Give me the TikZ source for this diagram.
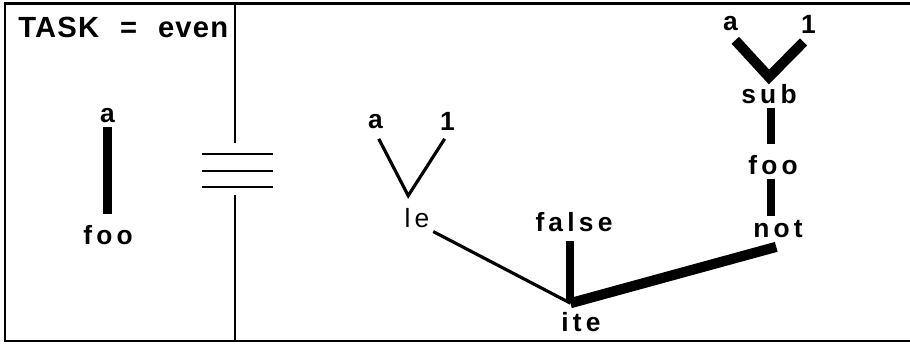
\documentclass[tikz,border=0pt]{standalone}
\usepackage{fontspec}
\setmainfont{Liberation Sans}
\newfontfamily\spaced[LetterSpace=16]{Liberation Sans}
\newfontfamily\titlefont[LetterSpace=4]{Liberation Sans}
\usetikzlibrary{calc}

\tikzset{
  lbl/.style={font=\spaced\fontsize{15}{17}\selectfont\bfseries,inner sep=2pt},
  thinlbl/.style={font=\spaced\fontsize{15}{17}\selectfont,inner sep=2pt},
  thinedge/.style={line width=1.8pt},
  heavy/.style={line width=4.6pt},
  heavier/.style={line width=5.8pt,line join=miter},
  frameline/.style={line width=1.5pt},
  divline/.style={line width=1.2pt}
}

\begin{document}
\begin{tikzpicture}
  \useasboundingbox (0,0) rectangle (18.2,6.9);

  % frame and divider
  \draw[frameline] (18.2,6.83) -- (0.1,6.83) -- (0.1,0.08) -- (18.2,0.08);
  \draw[divline] (4.7,6.83) -- (4.7,4.04);
  \draw[divline] (4.7,3.0) -- (4.7,0.08);
  \foreach \y in {3.82,3.48,3.16}
    \draw[line width=1.4pt] (4.04,\y) -- (5.46,\y);

  \node[font=\titlefont\fontsize{16.6}{18}\selectfont\bfseries,inner sep=0pt,anchor=base west] (task) at (0.36,6.14)
    {TASK\hspace{0.42cm}=\hspace{0.42cm}even};

  % left term
  \node[lbl] (a0) at (2.15,4.58) {a};
  \node[lbl] (foo0) at (2.16,2.2) {foo};
  \draw[heavy] (a0.south) -- ($(a0.south |- foo0.north)+(0,4pt)$);

  % right term
  \node[lbl] (a1) at (7.51,4.47) {a};
  \node[lbl] (one1) at (8.95,4.47) {1};
  \node[thinlbl] (le) at (8.34,2.54) {le};
  \node[lbl] (false) at (11.48,2.46) {false};
  \node[lbl] (ite) at (11.62,0.46) {ite};
  \node[lbl] (not) at (15.56,2.32) {not};
  \node[lbl] (foo1) at (15.46,3.6) {foo};
  \node[lbl] (sub) at (15.38,5.02) {sub};
  \node[lbl] (a2) at (14.61,6.42) {a};
  \node[lbl] (one2) at (16.17,6.42) {1};

  \coordinate (J) at ([xshift=-6pt,yshift=3pt]ite.north);

  \draw[thinedge,shorten <=4pt,shorten >=3pt] (a1.south) -- ([xshift=-5pt,yshift=5pt]le.north) -- (one1.south);
  \draw[thinedge] (le.south east) -- (J);
  \draw[heavy,shorten >=3pt] (J) -- (J |- false.south);
  \draw[heavier] (J) -- ([xshift=-1pt,yshift=-3pt]not.south);
  \draw[heavy] ([xshift=-1pt]foo1.south) -- ([xshift=-1pt]foo1.south |- not.north);
  \draw[heavy,shorten <=4pt] ([xshift=-1pt]foo1.north) -- ([xshift=-1pt]foo1.north |- sub.south);
  \draw[heavier,shorten <=4pt,shorten >=4pt] (a2.south) -- ([yshift=2pt]sub.north) -- (one2.south);
\end{tikzpicture}
\end{document}
